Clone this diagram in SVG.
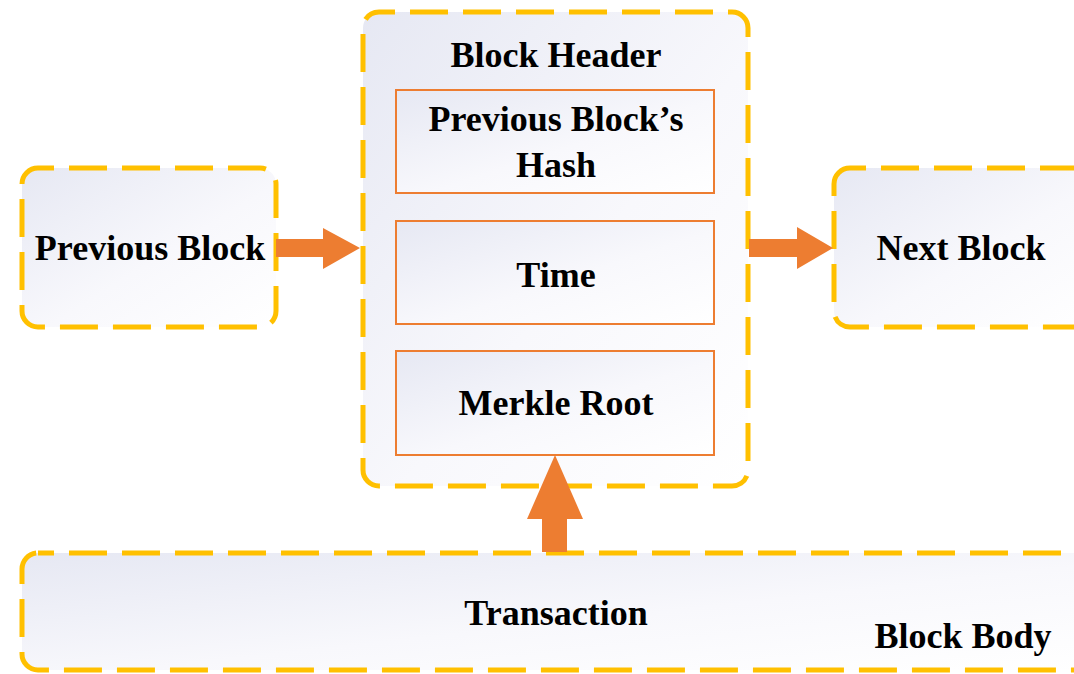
<svg xmlns="http://www.w3.org/2000/svg" width="1074" height="674" viewBox="0 0 1074 674">
  <defs>
    <linearGradient id="paleFill" x1="0" y1="0" x2="1" y2="1">
      <stop offset="0" stop-color="#E6E8F3"/>
      <stop offset="0.55" stop-color="#F8F8FC"/>
      <stop offset="1" stop-color="#FFFFFF"/>
    </linearGradient>
    <style>
      .block { fill: url(#paleFill); stroke: #FFC000; stroke-width: 5; stroke-dasharray: 38 15; stroke-dashoffset: 22; }
      .field { fill: url(#paleFill); stroke: #ED7D31; stroke-width: 2; }
      .arrow { fill: #ED7D31; stroke: none; }
      .label { font-family: "Liberation Serif", "Times New Roman", serif; font-weight: bold; font-size: 36px; fill: #000000; text-anchor: middle; }
    </style>
  </defs>

  <rect width="1074" height="674" fill="#FFFFFF"/>

  <g id="previous-block">
    <rect class="block" x="22" y="168" width="254" height="159" rx="16"/>
    <text class="label" x="150" y="260">Previous Block</text>
  </g>

  <g id="block-header">
    <rect class="block" x="363" y="12" width="385" height="474" rx="16"/>
    <text class="label" x="556" y="67">Block Header</text>
  </g>

  <g id="previous-hash">
    <rect class="field" x="396" y="90" width="318" height="103"/>
    <text class="label" x="556" y="131">Previous Block’s</text>
    <text class="label" x="556" y="177">Hash</text>
  </g>

  <g id="time">
    <rect class="field" x="396" y="221" width="318" height="103"/>
    <text class="label" x="556" y="287">Time</text>
  </g>

  <g id="merkle-root">
    <rect class="field" x="396" y="351" width="318" height="104"/>
    <text class="label" x="556" y="415">Merkle Root</text>
  </g>

  <g id="next-block">
    <rect class="block" x="834" y="168" width="260" height="159" rx="16"/>
    <text class="label" x="961" y="260">Next Block</text>
  </g>

  <g id="block-body">
    <rect class="block" x="22" y="553" width="1072" height="117" rx="16"/>
    <text class="label" x="556" y="625">Transaction</text>
    <text class="label" x="963" y="648">Block Body</text>
  </g>

  <g id="connectors">
    <!-- previous block -> header -->
    <polygon class="arrow" points="276,239 323,239 323,228 360,248 323,269 323,257 276,257"/>
    <!-- header -> next block -->
    <polygon class="arrow" points="749,239 797,239 797,227 833,248 797,269 797,257 749,257"/>
    <!-- body -> merkle root -->
    <polygon class="arrow" points="555,455 583,519 567,519 567,552 542,552 542,519 527,519"/>
  </g>
</svg>
